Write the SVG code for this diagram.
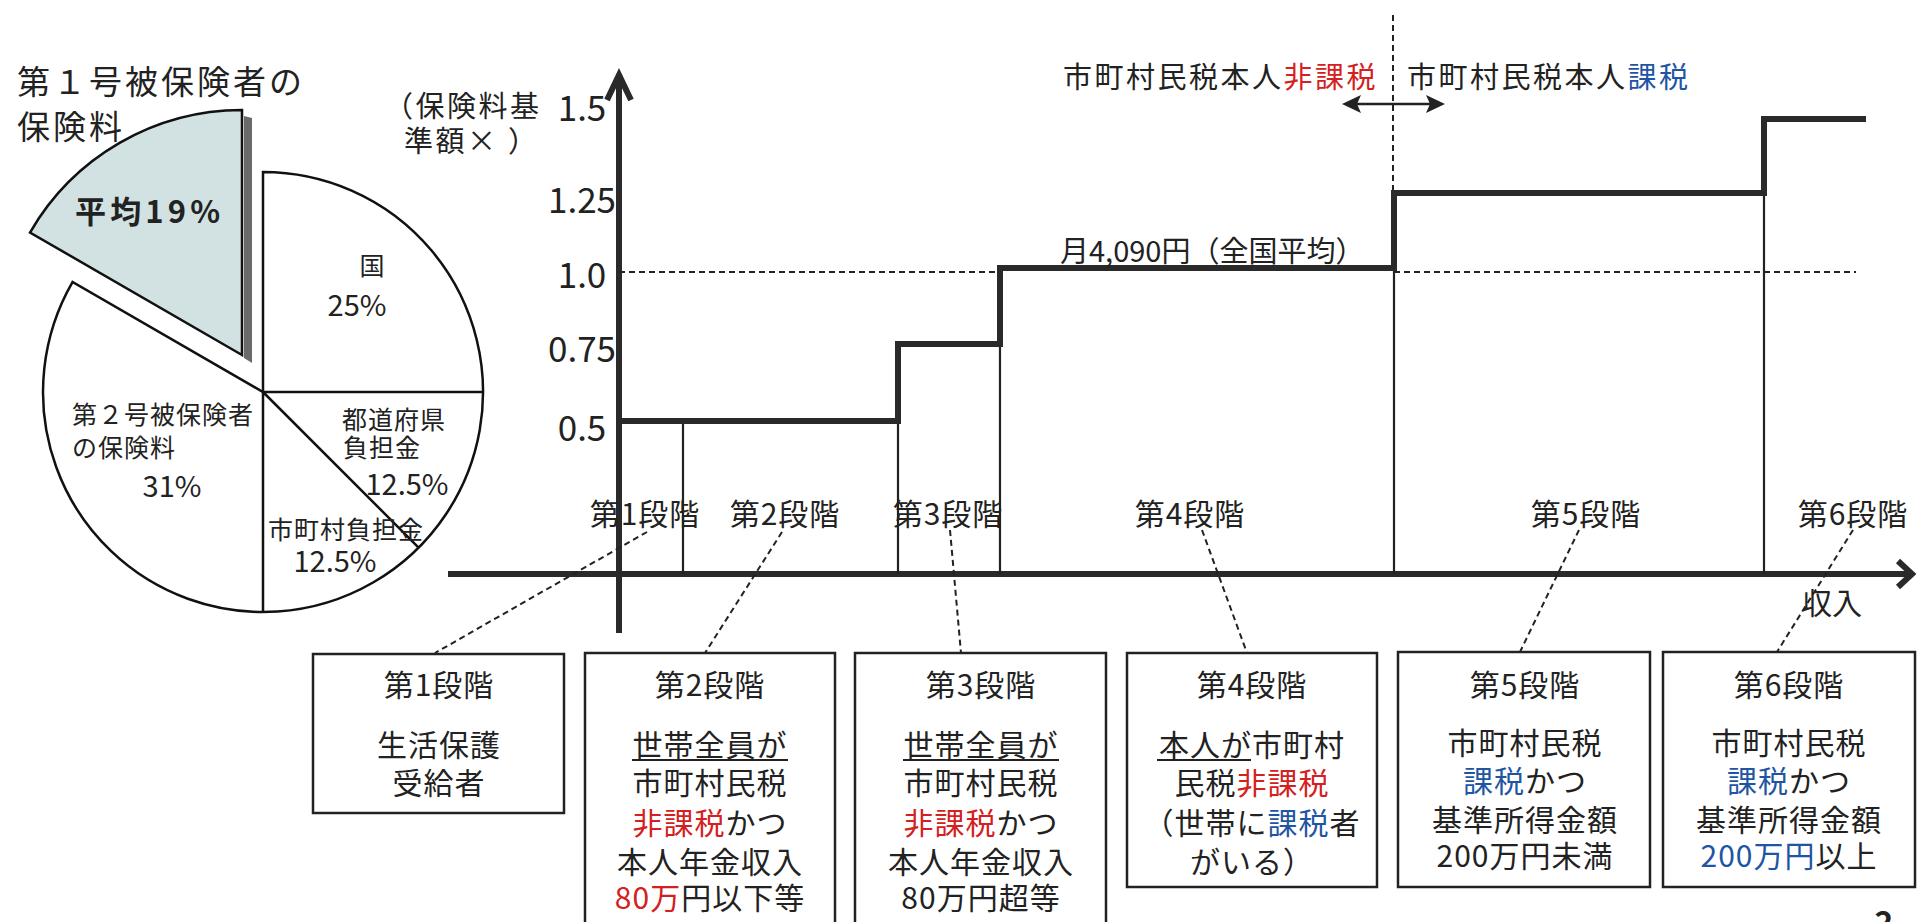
<svg xmlns="http://www.w3.org/2000/svg" width="1917" height="922" viewBox="0 0 1917 922">
<defs>
<style>
text{font-family:"Noto Sans CJK JP","Liberation Sans",sans-serif;fill:#222}
.t30{font-size:30px;letter-spacing:1px;text-anchor:middle}
.pl{font-size:25px;letter-spacing:1px}
.pn{font-size:29px;text-anchor:middle}
.yl{font-size:35px;text-anchor:middle}
.red{fill:#d42020}
.blue{fill:#1f55a3}
.thick{stroke:#2a2a2a;stroke-width:6;fill:none;stroke-linejoin:miter}
.thin{stroke:#222;stroke-width:2.2;fill:none}
.dash{stroke:#222;stroke-width:2;fill:none;stroke-dasharray:6 4}
.box{fill:#fff;stroke:#222;stroke-width:2.5}
.pie{fill:#fff;stroke:#111;stroke-width:2.5}
</style>
</defs>
<rect width="1917" height="922" fill="#fff"/>

<g id="pie-title">
<text x="17" y="94" style="font-size:33px;letter-spacing:3px">第１号被保険者の</text>
<text x="17" y="139" style="font-size:33px;letter-spacing:3px">保険料</text>
</g>

<g id="pie">
<path class="pie" d="M263,392 L263,172 A220,220 0 1 1 72.5,282 Z"/>
<path d="M263,392 H483 M263,392 L418.6,547.6 M263,392 V612" stroke="#111" stroke-width="2.5" fill="none"/>
<polygon points="244,116 252,118 252,363 244,358" fill="#6a6a6a"/>
<path d="M242,355 L30,232.5 A245,245 0 0 1 242,110 Z" fill="#d2e2e2" stroke="#111" stroke-width="2.5"/>
<text x="75" y="223" textLength="145" lengthAdjust="spacing" style="font-size:31px;font-weight:bold">平均19%</text>
<text x="372" y="275" style="font-size:25px;text-anchor:middle">国</text>
<text x="357" y="316" class="pn">25%</text>
<text x="342" y="429" class="pl">都道府県</text>
<text x="343" y="457" class="pl">負担金</text>
<text x="407" y="495" class="pn">12.5%</text>
<text x="72" y="424" class="pl">第２号被保険者</text>
<text x="72" y="457" class="pl">の保険料</text>
<text x="172" y="497" class="pn">31%</text>
<text x="268" y="539" class="pl">市町村負担金</text>
<text x="335" y="572" class="pn">12.5%</text>
</g>

<g id="axes">
<path class="thick" d="M448,574 H1911" stroke-width="6.5"/>
<path class="thick" d="M1898,561 L1912,574 L1898,587" stroke-width="5"/>
<path class="thick" d="M619,633 V76" stroke-width="6.5"/>
<path class="thick" d="M607,100 L619,75 L631,100" stroke-width="5"/>
<text x="384" y="117" style="font-size:29px;letter-spacing:2.5px">（保険料基</text>
<text x="404" y="152" style="font-size:29px;letter-spacing:2.5px">準額×</text>
<text x="508" y="152" style="font-size:29px">）</text>
<text x="582" y="121" class="yl">1.5</text>
<text x="582" y="213" class="yl">1.25</text>
<text x="582" y="288" class="yl">1.0</text>
<text x="582" y="362" class="yl">0.75</text>
<text x="582" y="441" class="yl">0.5</text>
<text x="1832" y="614" style="font-size:30px;text-anchor:middle">収入</text>
</g>

<g id="steps">
<path class="dash" d="M619,272 H1000 M1394,272 H1856"/>
<path class="thin" d="M683,421 V574 M898,421 V574 M1000,344 V574 M1394,268 V574 M1764,193 V574"/>
<path class="thick" d="M619,421 H898 V344 H1000 V268 H1394 V193 H1764 V119 H1866"/>
<text x="1060" y="262" style="font-size:29px">月4,090円（全国平均）</text>
</g>

<g id="tax-boundary">
<path class="dash" d="M1393,15 V190"/>
<path d="M1356,104 H1431" stroke="#222" stroke-width="2.5"/>
<path d="M1342,104 L1361,95 L1357,104 L1361,113 Z M1445,104 L1426,95 L1430,104 L1426,113 Z" fill="#222"/>
<text x="1063" y="88" style="font-size:29px;letter-spacing:2.5px">市町村民税本人<tspan class="red">非課税</tspan></text>
<text x="1407" y="88" style="font-size:29px;letter-spacing:2.5px">市町村民税本人<tspan class="blue">課税</tspan></text>
</g>

<g id="stage-labels">
<text x="645" y="525" class="t30">第1段階</text>
<text x="785" y="525" class="t30">第2段階</text>
<text x="948" y="525" class="t30">第3段階</text>
<text x="1190" y="525" class="t30">第4段階</text>
<text x="1586" y="525" class="t30">第5段階</text>
<text x="1853" y="525" class="t30">第6段階</text>
</g>

<g id="connectors">
<path class="dash" stroke-width="1.8" d="M647,532 L435,653"/>
<path class="dash" stroke-width="1.8" d="M782,532 L705,653"/>
<path class="dash" stroke-width="1.8" d="M950,530 L961,653"/>
<path class="dash" stroke-width="1.8" d="M1202,530 L1247,653"/>
<path class="dash" stroke-width="1.8" d="M1579,530 L1520,652"/>
<path class="dash" stroke-width="1.8" d="M1853,530 L1777,652"/>
</g>

<g id="box1">
<rect class="box" x="313" y="654" width="251" height="159"/>
<text x="439" y="696" class="t30">第1段階</text>
<text x="439" y="756" class="t30">生活保護</text>
<text x="439" y="794" class="t30">受給者</text>
</g>

<g id="box2">
<rect class="box" x="585" y="653" width="250" height="290"/>
<text x="710" y="696" class="t30">第2段階</text>
<text x="710" y="756" class="t30">世帯全員が</text>
<line x1="632" y1="760" x2="788" y2="760" stroke="#222" stroke-width="2"/>
<text x="710" y="794" class="t30">市町村民税</text>
<text x="710" y="834" class="t30"><tspan class="red">非課税</tspan>かつ</text>
<text x="710" y="873" class="t30">本人年金収入</text>
<text x="710" y="909" class="t30"><tspan class="red">80万</tspan>円以下等</text>
</g>

<g id="box3">
<rect class="box" x="855" y="653" width="251" height="290"/>
<text x="981" y="696" class="t30">第3段階</text>
<text x="981" y="756" class="t30">世帯全員が</text>
<line x1="903" y1="760" x2="1059" y2="760" stroke="#222" stroke-width="2"/>
<text x="981" y="794" class="t30">市町村民税</text>
<text x="981" y="834" class="t30"><tspan class="red">非課税</tspan>かつ</text>
<text x="981" y="873" class="t30">本人年金収入</text>
<text x="981" y="909" class="t30">80万円超等</text>
</g>

<g id="box4">
<rect class="box" x="1127" y="653" width="250" height="234"/>
<text x="1252" y="696" class="t30">第4段階</text>
<text x="1252" y="756" class="t30">本人が市町村</text>
<line x1="1157" y1="760" x2="1251" y2="760" stroke="#222" stroke-width="2"/>
<text x="1252" y="794" class="t30">民税<tspan class="red">非課税</tspan></text>
<text x="1252" y="834" class="t30">（世帯に<tspan class="blue">課税</tspan>者</text>
<text x="1252" y="873" class="t30">がいる）</text>
</g>

<g id="box5">
<rect class="box" x="1398" y="652" width="252" height="235"/>
<text x="1525" y="696" class="t30">第5段階</text>
<text x="1525" y="754" class="t30">市町村民税</text>
<text x="1525" y="792" class="t30"><tspan class="blue">課税</tspan>かつ</text>
<text x="1525" y="831" class="t30">基準所得金額</text>
<text x="1525" y="867" class="t30">200万円未満</text>
</g>

<g id="box6">
<rect class="box" x="1663" y="652" width="252" height="235"/>
<text x="1789" y="696" class="t30">第6段階</text>
<text x="1789" y="754" class="t30">市町村民税</text>
<text x="1789" y="792" class="t30"><tspan class="blue">課税</tspan>かつ</text>
<text x="1789" y="831" class="t30">基準所得金額</text>
<text x="1789" y="867" class="t30"><tspan class="blue">200万円</tspan>以上</text>
</g>

<text x="1884" y="934" style="font-size:32px;font-weight:bold;text-anchor:middle">2</text>
</svg>
